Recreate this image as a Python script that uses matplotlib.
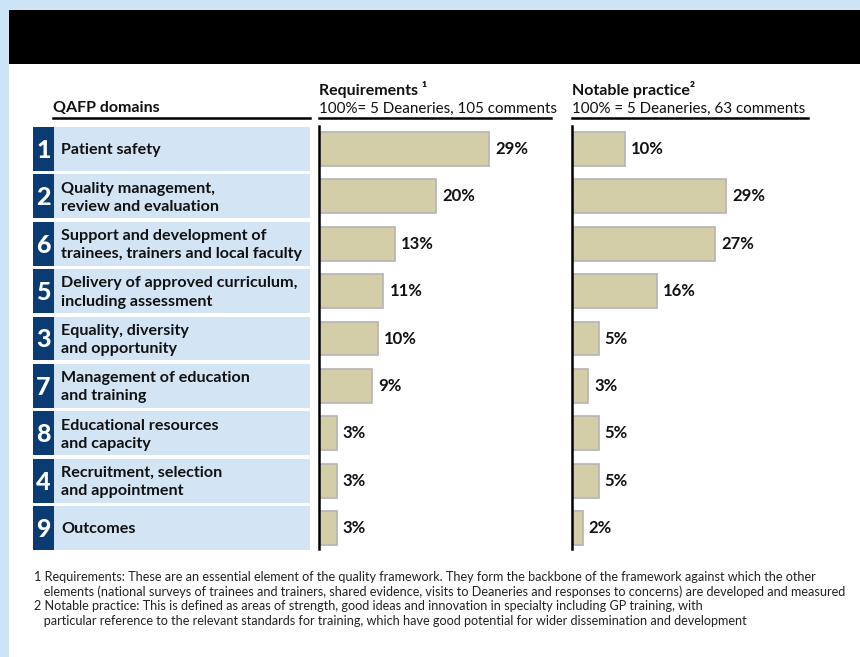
import matplotlib.pyplot as plt
from matplotlib.patches import Rectangle
from matplotlib.lines import Line2D

# QAFP domains, in the order shown
domain_no = ["1", "2", "6", "5", "3", "7", "8", "4", "9"]
domains = [
    "Patient safety",
    "Quality management,\nreview and evaluation",
    "Support and development of\ntrainees, trainers and local faculty",
    "Delivery of approved curriculum,\nincluding assessment",
    "Equality, diversity\nand opportunity",
    "Management of education\nand training",
    "Educational resources\nand capacity",
    "Recruitment, selection\nand appointment",
    "Outcomes",
]
requirements = [29, 20, 13, 11, 10, 9, 3, 3, 3]
notable = [10, 29, 27, 16, 5, 3, 5, 5, 2]

footnotes = [
    "1 Requirements: These are an essential element of the quality framework. They form the backbone of the framework against which the other",
    "   elements (national surveys of trainees and trainers, shared evidence, visits to Deaneries and responses to concerns) are developed and measured",
    "2 Notable practice: This is defined as areas of strength, good ideas and innovation in specialty including GP training, with",
    "   particular reference to the relevant standards for training, which have good potential for wider dissemination and development",
]

plt.rcParams["font.family"] = ["Lato", "DejaVu Sans"]

W, H = 860, 657
BG = "#cce4f5"
NAVY = "#0b3b73"
BOX = "#d3e5f5"
BAR = "#d3cda8"
EDGE = "#b4b4b4"
INK = "#111111"

fig = plt.figure(figsize=(W / 100, H / 100), dpi=100)
fig.patch.set_facecolor(BG)


def fx(x):
    return x / W


def fy(y):
    return 1 - y / H


# white page, black banner (behind the axes)
fig.add_artist(Rectangle((fx(9), 0), 1 - fx(9), fy(64), transform=fig.transFigure,
                         facecolor="white", edgecolor="none", zorder=-2))
fig.add_artist(Rectangle((fx(9), fy(64)), 1 - fx(9), fy(10) - fy(64),
                         transform=fig.transFigure, facecolor="black", edgecolor="none",
                         zorder=-2))

# shared vertical extent of the rows
top, bot = 125.3, 551.7
n = len(domains)


def make_ax(x0, x1):
    ax = fig.add_axes([fx(x0), fy(bot), fx(x1) - fx(x0), fy(top) - fy(bot)])
    ax.set_ylim(n - 0.5, -0.5)
    ax.set_facecolor("none")
    for s in ["top", "right", "bottom", "left"]:
        ax.spines[s].set_visible(False)
    ax.set_xticks([])
    ax.set_yticks([])
    return ax


# domain label boxes
ax_lab = make_ax(33, 310)
ax_lab.set_xlim(0, 277)
box_h = 44 / 47.4
for i, (num, name) in enumerate(zip(domain_no, domains)):
    ax_lab.add_patch(Rectangle((0, i - box_h / 2), 21, box_h, facecolor=NAVY, edgecolor="none"))
    ax_lab.add_patch(Rectangle((21, i - box_h / 2), 256, box_h, facecolor=BOX, edgecolor="none"))
    ax_lab.text(10.5, i + 0.03, num, color="white", fontsize=18, fontweight="black",
                ha="center", va="center")
    ax_lab.text(28, i + 0.03, name, color=INK, fontsize=11.6, fontweight="bold",
                ha="left", va="center", linespacing=1.38)


def bar_panel(x0, x1, scale, values):
    ax = make_ax(x0, x1)
    ax.set_xlim(0, (x1 - x0) / scale)
    ax.spines["left"].set_visible(True)
    ax.spines["left"].set_linewidth(1.8)
    ax.spines["left"].set_bounds(-0.48, n - 0.55)
    ys = list(range(n))
    ax.barh(ys, values, height=34 / 47.4, color=BAR, edgecolor=EDGE, linewidth=1.2, zorder=2)
    for y, v in zip(ys, values):
        ax.annotate(f"{v}%", (v, y), xytext=(4.5, 0), textcoords="offset points",
                    ha="left", va="center", fontsize=12, fontweight="bold", color=INK)
    return ax


bar_panel(319, 560, 5.85, requirements)
bar_panel(572, 850, 5.3, notable)

# column headers
fig.text(fx(53), fy(112), "QAFP domains", fontsize=11.5, fontweight="bold", color=INK)
fig.text(fx(319), fy(95), "Requirements ¹", fontsize=11.5, fontweight="bold", color=INK)
fig.text(fx(319), fy(113), "100%= 5 Deaneries, 105 comments", fontsize=10.9, color=INK)
fig.text(fx(572), fy(95), "Notable practice²", fontsize=11.5, fontweight="bold", color=INK)
fig.text(fx(572), fy(113), "100% = 5 Deaneries, 63 comments", fontsize=10.9, color=INK)
for a, b in [(53, 310), (319, 551), (572, 808)]:
    fig.add_artist(Line2D([fx(a), fx(b)], [fy(117.5), fy(117.5)], transform=fig.transFigure,
                          color="black", linewidth=1.8))

# footnotes
for k, line in enumerate(footnotes):
    fig.text(fx(34), fy(577 + k * 14.7), line, fontsize=9.05, color="#222222",
             ha="left", va="center")

fig.savefig("out.png", dpi=100, facecolor=fig.get_facecolor())
